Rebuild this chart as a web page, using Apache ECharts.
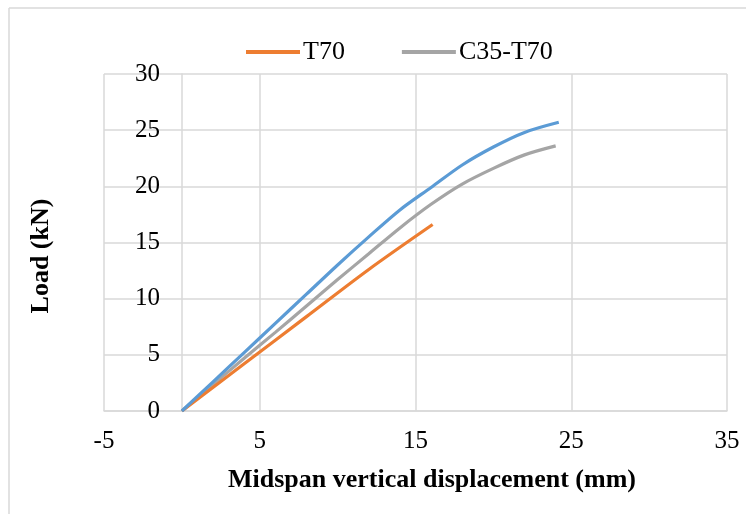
<!DOCTYPE html>
<html>
<head>
<meta charset="utf-8">
<script src="https://cdn.jsdelivr.net/npm/echarts@6/dist/echarts.min.js"></script>
<style>
html,body{margin:0;padding:0;background:#fff;}
#c{width:746px;height:514px;}
</style>
</head>
<body>
<div id="c"></div>
<script>
// Data
var seriesNames = ['T70', 'C35-T70', ''];
var xTicks = [-5, 5, 15, 25, 35];
var yTicks = [0, 5, 10, 15, 20, 25, 30];

var t70Disp = [0, 4, 8, 12, 16.1];
var t70Load = [0, 4.2, 8.4, 12.6, 16.6];

var c35Disp = [0, 2, 4, 6, 8, 10, 12, 14, 16, 18, 20, 22, 24.0];
var c35Load = [0, 2.35, 4.7, 7.0, 9.35, 11.7, 14.0, 16.3, 18.4, 20.2, 21.6, 22.8, 23.6];

var blueDisp = [0, 2, 4, 6, 8, 10, 12, 14, 16, 18, 20, 22, 24.2];
var blueLoad = [0, 2.6, 5.2, 7.8, 10.4, 13.0, 15.5, 17.9, 19.9, 21.9, 23.5, 24.8, 25.7];

function pairs(xs, ys) { return xs.map(function (x, i) { return [x, ys[i]]; }); }

var FONT = '"Liberation Serif", "Times New Roman", serif';
var chart = echarts.init(document.getElementById('c'), null, {renderer: 'canvas'});
chart.setOption({
  animation: false,
  backgroundColor: '#fff',
  textStyle: {fontFamily: FONT},
  grid: {left: 104, right: 19, top: 74, bottom: 103, containLabel: false},
  legend: {
    top: 34, left: 241,
    data: [seriesNames[0], seriesNames[1]],
    icon: 'rect', itemWidth: 54, itemHeight: 4, itemGap: 57,
    textStyle: {fontFamily: FONT, fontSize: 26, color: '#000', padding: [0,0,0,-2]}
  },
  xAxis: {
    type: 'value', min: xTicks[0], max: xTicks[xTicks.length-1], interval: 10,
    axisLine: {show: true, onZero: false, lineStyle: {color: '#d9d9d9', width: 1.5}},
    axisTick: {show: false},
    axisLabel: {fontFamily: FONT, fontSize: 25, color: '#000', margin: 18},
    splitLine: {show: true, lineStyle: {color: '#d9d9d9', width: 1.5}}
  },
  yAxis: {
    type: 'value', min: yTicks[0], max: yTicks[yTicks.length-1], interval: 5,
    axisLine: {show: true, onZero: true, lineStyle: {color: '#d9d9d9', width: 1.5}},
    axisTick: {show: false},
    axisLabel: {fontFamily: FONT, fontSize: 25, color: '#000', margin: -56},
    splitLine: {show: true, lineStyle: {color: '#d9d9d9', width: 1.5}}
  },
  graphic: [
    {type: 'line', shape: {x1: 9, y1: 8, x2: 746, y2: 8}, style: {stroke: '#d9d9d9', lineWidth: 1.5}},
    {type: 'line', shape: {x1: 9, y1: 8, x2: 9, y2: 514}, style: {stroke: '#d9d9d9', lineWidth: 1.5}},
    {type: 'text', x: 432, y: 480, style: {text: 'Midspan vertical displacement (mm)', font: 'bold 26px ' + FONT, fill: '#000', align: 'center', verticalAlign: 'middle'}},
    {type: 'text', x: 41, y: 256, rotation: Math.PI/2, style: {text: 'Load (kN)', font: 'bold 26px ' + FONT, fill: '#000', align: 'center', verticalAlign: 'middle'}}
  ],
  series: [
    {name: seriesNames[0], type: 'line', data: pairs(t70Disp, t70Load), smooth: 0.3, showSymbol: false,
     lineStyle: {color: '#ed7d31', width: 3.2}, itemStyle: {color: '#ed7d31'}, z: 3},
    {name: seriesNames[1], type: 'line', data: pairs(c35Disp, c35Load), smooth: 0.3, showSymbol: false,
     lineStyle: {color: '#a5a5a5', width: 3.2}, itemStyle: {color: '#a5a5a5'}, z: 2},
    {name: 'Series3', type: 'line', data: pairs(blueDisp, blueLoad), smooth: 0.3, showSymbol: false,
     lineStyle: {color: '#5b9bd5', width: 3.2}, itemStyle: {color: '#5b9bd5'}, z: 4}
  ]
});
</script>
</body>
</html>
